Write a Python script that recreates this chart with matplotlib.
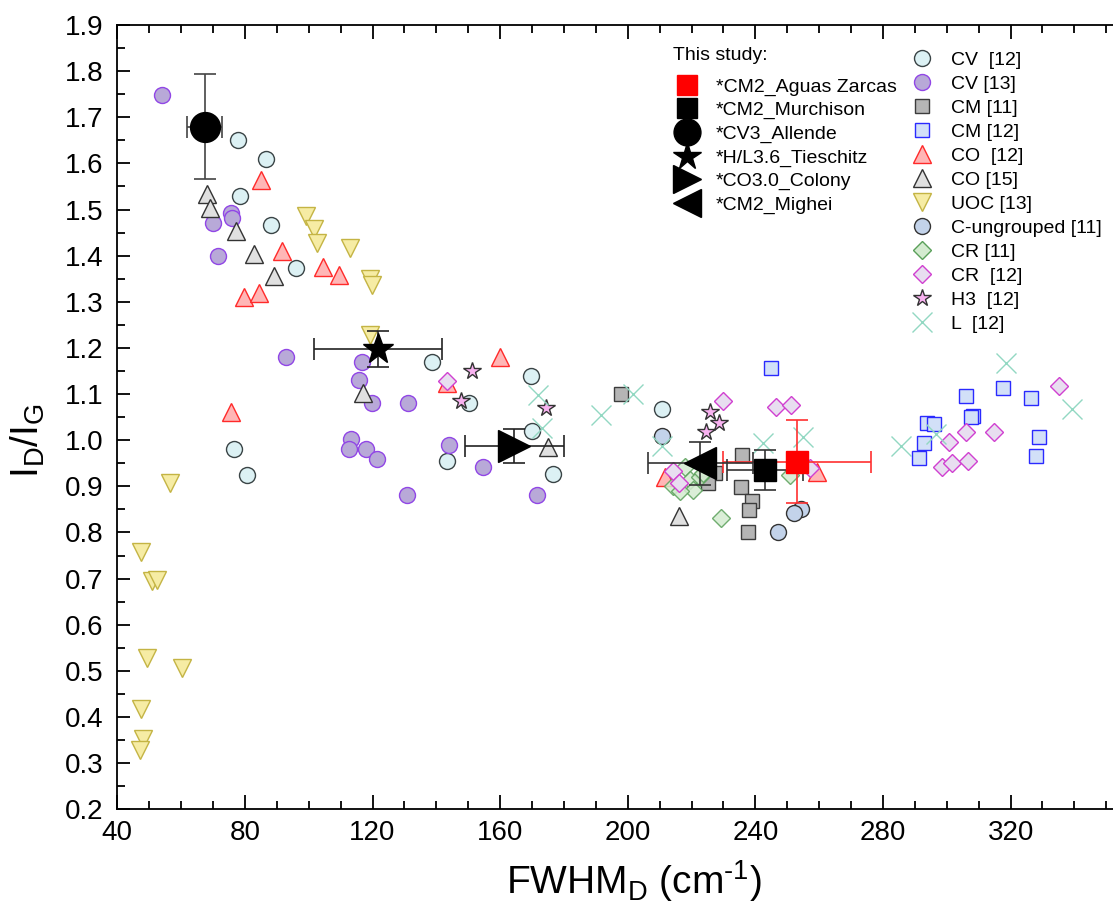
import matplotlib
matplotlib.use("Agg")
import matplotlib.pyplot as plt
from matplotlib.lines import Line2D
from matplotlib.ticker import MultipleLocator

plt.rcParams['font.family'] = ['Liberation Sans', 'DejaVu Sans']
plt.rcParams['mathtext.default'] = 'regular'

# literature data
cv12_x = [77.8, 86.5, 78.6, 88.1, 95.9, 76.7, 80.6, 138.6, 150.3, 169.6, 169.9, 143.3, 176.5, 210.7]
cv12_y = [1.650, 1.609, 1.529, 1.466, 1.373, 0.982, 0.924, 1.170, 1.080, 1.140, 1.020, 0.954, 0.926, 1.067]

cv13_x = [54.0, 75.5, 75.9, 70.0, 71.5, 92.9, 116.7, 115.9, 119.7, 131.2, 113.3, 112.5, 117.9, 121.3, 130.8, 144.1, 154.7, 171.5]
cv13_y = [1.748, 1.492, 1.481, 1.470, 1.399, 1.180, 1.170, 1.131, 1.080, 1.080, 1.002, 0.981, 0.981, 0.960, 0.881, 0.990, 0.941, 0.881]

cm11_x = [197.8, 235.8, 227.4, 225.0, 235.4, 239.0, 238.0, 237.7]
cm11_y = [1.100, 0.968, 0.929, 0.907, 0.898, 0.869, 0.849, 0.800]

cm12_x = [244.9, 306.1, 317.6, 326.4, 308.3, 307.5, 293.9, 296.0, 293.0, 291.2, 329.0, 328.1]
cm12_y = [1.156, 1.096, 1.113, 1.091, 1.053, 1.050, 1.038, 1.035, 0.995, 0.962, 1.008, 0.965]

co12_x = [85.0, 91.5, 104.4, 109.6, 79.8, 84.5, 75.7, 160.0, 143.3, 211.7, 259.3]
co12_y = [1.564, 1.410, 1.375, 1.358, 1.310, 1.319, 1.061, 1.181, 1.124, 0.921, 0.932]

co15_x = [68.0, 69.1, 77.1, 83.0, 89.1, 117.1, 175.0, 216.1]
co15_y = [1.533, 1.503, 1.453, 1.404, 1.355, 1.103, 0.985, 0.835]

uoc13_x = [99.0, 101.8, 102.7, 113.0, 119.2, 119.8, 119.1, 56.6, 47.3, 51.0, 52.3, 49.2, 60.2, 47.3, 48.0, 47.1]
uoc13_y = [1.485, 1.457, 1.427, 1.416, 1.350, 1.336, 1.228, 0.908, 0.757, 0.694, 0.696, 0.528, 0.507, 0.417, 0.353, 0.328]

cung_x = [210.7, 254.2, 252.0, 247.2]
cung_y = [1.009, 0.851, 0.842, 0.801]

cr11_x = [218.0, 214.3, 219.5, 220.6, 222.6, 223.7, 229.2, 250.9, 216.5]
cr11_y = [0.943, 0.900, 0.914, 0.892, 0.921, 0.929, 0.831, 0.925, 0.890]

cr12_x = [143.3, 229.7, 246.4, 251.3, 214.3, 216.2, 257.1, 335.2, 300.8, 306.1, 314.7, 298.4, 301.7, 306.8]
cr12_y = [1.129, 1.086, 1.071, 1.077, 0.934, 0.908, 0.939, 1.118, 0.997, 1.017, 1.017, 0.942, 0.950, 0.955]

h3_x = [151.1, 147.6, 174.4, 225.8, 228.7, 224.5]
h3_y = [1.150, 1.084, 1.069, 1.062, 1.037, 1.017]

l12_x = [172.0, 173.0, 191.5, 201.6, 210.7, 242.3, 255.0, 318.6, 339.4, 285.6, 296.6]
l12_y = [1.098, 1.026, 1.055, 1.100, 0.988, 0.995, 1.007, 1.168, 1.067, 0.988, 1.013]

# this study
study_labels = ['*CM2_Aguas Zarcas', '*CM2_Murchison', '*CV3_Allende',
                '*H/L3.6_Tieschitz', '*CO3.0_Colony', '*CM2_Mighei']
study_x = [253.0, 243.0, 67.4, 121.7, 164.4, 222.7]
study_xerr = [23.3, 12.0, 5.5, 20.0, 15.5, 16.5]
study_y = [0.953, 0.936, 1.680, 1.197, 0.988, 0.950]
study_yerr = [0.090, 0.043, 0.114, 0.039, 0.037, 0.047]

fig = plt.figure(figsize=(11.13, 9.14), dpi=100)
ax = fig.add_axes([0.1054, 0.1146, 0.8946, 0.8580])

lit = [
    (cv12_x, cv12_y, 'CV  [12]', 'o', 11.5, '#dcf1f4', '#3a4446', 1.0),
    (cv13_x, cv13_y, 'CV [13]', 'o', 11.5, '#b8a9d8', '#9146e6', 1.0),
    (cm11_x, cm11_y, 'CM [11]', 's', 10, '#b5b5b5', '#3c3c3c', 1.0),
    (cm12_x, cm12_y, 'CM [12]', 's', 10, '#d2e0f8', '#2a2aff', 1.0),
    (co12_x, co12_y, 'CO  [12]', '^', 13, '#ffb6b6', '#ff2a2a', 1.0),
    (co15_x, co15_y, 'CO [15]', '^', 13, '#e0e0e0', '#333333', 1.0),
    (uoc13_x, uoc13_y, 'UOC [13]', 'v', 13, '#f6eca4', '#c4b444', 1.0),
    (cung_x, cung_y, 'C-ungrouped [11]', 'o', 11.5, '#c3d3ea', '#333333', 1.0),
    (cr11_x, cr11_y, 'CR [11]', 'D', 9.5, '#d4ebd0', '#5aa05a', 0.85),
    (cr12_x, cr12_y, 'CR  [12]', 'D', 9.5, '#e8def0', '#d040d0', 1.0),
    (h3_x, h3_y, 'H3  [12]', '*', 13, '#f8b2f0', '#333333', 1.0),
]

lit_handles = []
for xs, ys, lab, mk, ms, fc, ec, al in lit:
    ax.plot(xs, ys, ls='none', marker=mk, ms=ms, mfc=fc, mec=ec, mew=1.0, alpha=al, zorder=3)
    lit_handles.append(Line2D([], [], ls='none', marker=mk, ms=ms, mfc=fc, mec=ec, mew=1.0, label=lab))

ax.plot(l12_x, l12_y, ls='none', marker='x', ms=14, mec='#92d8c2', mew=1.0, zorder=3)
lit_handles.append(Line2D([], [], ls='none', marker='x', ms=14, mec='#92d8c2', mew=1.0, label='L  [12]'))

study_markers = ['s', 's', 'o', '*', '>', '<']
study_sizes = [16.5, 16.5, 21.5, 23, 23, 23]
study_colors = ['#ff0000', 'black', 'black', 'black', 'black', 'black']
study_ecol = ['#ff3030', '#333333', '#444444', '#222222', '#222222', '#333333']

study_handles = []
for i in range(len(study_x)):
    ax.errorbar(study_x[i], study_y[i], xerr=study_xerr[i], yerr=study_yerr[i], fmt='none',
                ecolor=study_ecol[i], elinewidth=1.2, capsize=8, capthick=1.2, zorder=4)
    ax.plot(study_x[i], study_y[i], ls='none', marker=study_markers[i], ms=study_sizes[i],
            color=study_colors[i], mec=study_colors[i], zorder=5)
    study_handles.append(Line2D([], [], ls='none', marker=study_markers[i],
                                ms=study_sizes[i] * 0.9, color=study_colors[i],
                                label=study_labels[i]))

ax.set_xlim(40, 352.1)
ax.set_ylim(0.2, 1.9)
ax.xaxis.set_major_locator(MultipleLocator(40))
ax.xaxis.set_minor_locator(MultipleLocator(10))
ax.yaxis.set_major_locator(MultipleLocator(0.1))
ax.yaxis.set_minor_locator(MultipleLocator(0.05))
ax.tick_params(which='both', direction='in', top=True, right=False, width=1.3)
ax.tick_params(which='major', length=10, labelsize=20, pad=8)
ax.tick_params(axis='y', which='major', length=9, pad=10)
ax.tick_params(which='minor', length=5.5)
ax.spines['right'].set_visible(False)
for s in ['left', 'bottom', 'top']:
    ax.spines[s].set_linewidth(1.3)

ax.set_xlabel('FWHM$_{D}$ (cm$^{\u2010 1}$)', fontsize=28)
ax.set_ylabel('I$_{D}$/I$_{G}$', fontsize=28)
ax.xaxis.set_label_coords(0.519, -0.062)
ax.yaxis.set_label_coords(-0.071, 0.47)

fig.text(673 / 1113, 1 - 55 / 914, 'This study:', fontsize=14, va='center', ha='left')
leg1 = ax.legend(handles=study_handles, loc='upper left',
                 bbox_to_anchor=(672 / 1113, 1 - 78 / 914), bbox_transform=fig.transFigure,
                 frameon=False, fontsize=14, borderpad=0, borderaxespad=0,
                 handlelength=1.5, handletextpad=0.75, labelspacing=0.3)
ax.add_artist(leg1)
ax.legend(handles=lit_handles, loc='upper left',
          bbox_to_anchor=(907 / 1113, 1 - 51 / 914), bbox_transform=fig.transFigure,
          frameon=False, fontsize=14, borderpad=0, borderaxespad=0,
          handlelength=1.5, handletextpad=0.75, labelspacing=0.33)

fig.savefig('out.png', dpi=100)
